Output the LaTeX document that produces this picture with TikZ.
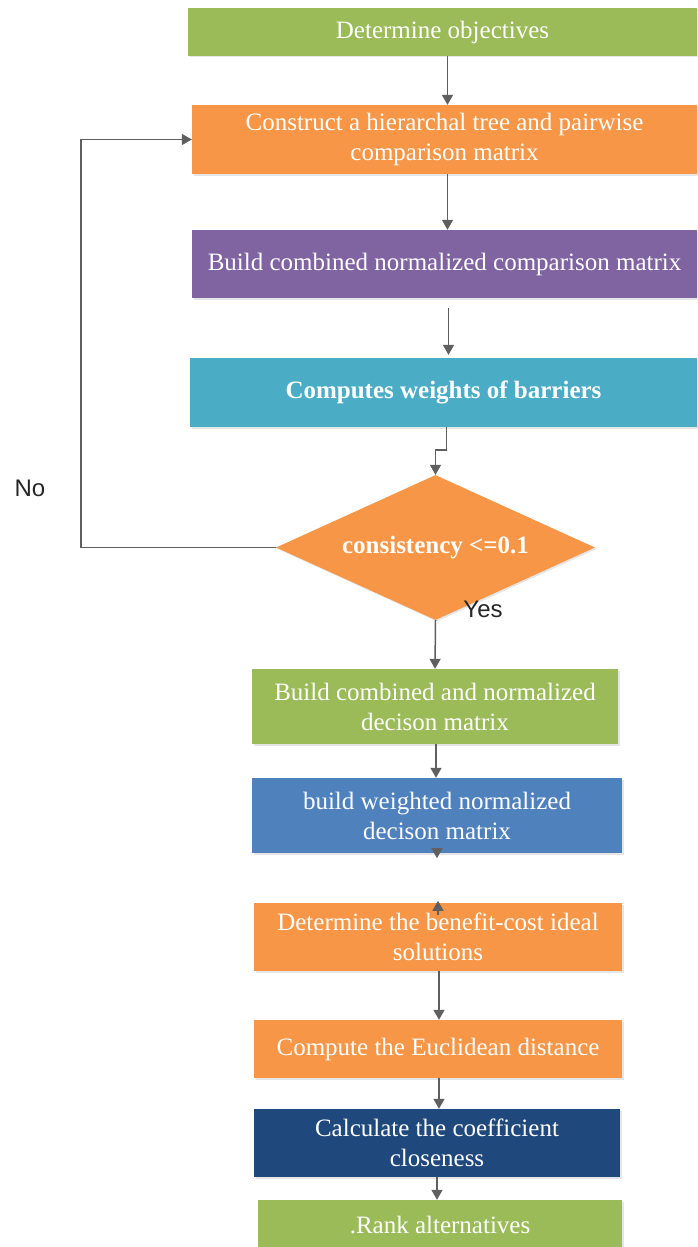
\documentclass[tikz,border=0pt]{standalone}
\usepackage{fontspec}
\setmainfont{Liberation Serif}
\newfontfamily\labelfont{Liberation Sans}
\usetikzlibrary{shapes.geometric,arrows.meta,shadows}

\definecolor{boxgreen}{RGB}{155,187,89}
\definecolor{boxorange}{RGB}{247,150,70}
\definecolor{boxpurple}{RGB}{128,100,162}
\definecolor{boxteal}{RGB}{75,172,198}
\definecolor{boxblue}{RGB}{79,129,189}
\definecolor{boxnavy}{RGB}{31,73,125}
\definecolor{arrowgray}{RGB}{95,95,95}

\begin{document}
\begin{tikzpicture}[x=1pt,y=-1pt,
    box/.style={rectangle, text=white, align=center, inner sep=0pt,
        font=\fontsize{25}{30}\selectfont,
        drop shadow={shadow xshift=1.5pt, shadow yshift=-1.5pt, fill=black!20}},
    decide/.style={diamond, aspect=2.2, fill=boxorange, text=white, inner sep=0pt,
        minimum width=319pt, minimum height=145pt,
        font=\bfseries\fontsize{25}{30}\selectfont,
        drop shadow={shadow xshift=1.5pt, shadow yshift=-1.5pt, fill=black!20}},
    arr/.style={draw=arrowgray, line width=1.5pt, -{Triangle[length=10pt,width=11pt]}},
    answer/.style={font=\labelfont\fontsize{24}{28}\selectfont, text=black!85}]

    \useasboundingbox (0,0) rectangle (697,1247);

    \node[box, fill=boxgreen, minimum width=509pt, minimum height=48pt]  (obj)    at (442.5,32)  {Determine objectives};
    \node[box, fill=boxorange, minimum width=505pt, minimum height=69pt] (tree)   at (444.5,139.5) {Construct a hierarchal tree and pairwise\\comparison matrix};
    \node[box, fill=boxpurple, minimum width=505pt, minimum height=68pt] (cnorm)  at (444.5,264) {Build combined normalized comparison matrix};
    \node[box, fill=boxteal, minimum width=507pt, minimum height=69pt, font=\bfseries\fontsize{25}{30}\selectfont] (weights) at (443.5,392.5) {Computes weights of barriers};
    \node[decide] (check) at (435.5,547.5) {consistency <=0.1};

    \node[box, fill=boxgreen, minimum width=366pt, minimum height=75pt]  (dnorm)  at (435,706.5) {Build combined and normalized\\decison matrix};
    \node[box, fill=boxblue, minimum width=370pt, minimum height=75pt]   (wnorm)  at (437,815.5) {build weighted normalized\\decison matrix};
    \node[box, fill=boxorange, minimum width=368pt, minimum height=68pt] (ideal)  at (438,937)   {Determine the benefit-cost ideal\\solutions};
    \node[box, fill=boxorange, minimum width=368pt, minimum height=58pt] (dist)   at (438,1049)  {Compute the Euclidean distance};
    \node[box, fill=boxnavy, minimum width=366pt, minimum height=68pt]   (close)  at (437,1143)  {Calculate the coefficient\\closeness};
    \node[box, fill=boxgreen, minimum width=364pt, minimum height=50pt]  (rank)   at (440,1225)  {.Rank alternatives};

    \node[answer] (no)  at (30,488)  {No};
    \node[answer] (yes) at (483,609) {Yes};

    \draw[arr] ([xshift=5pt]obj.south) -- ([xshift=3pt]tree.north);
    \draw[arr] ([xshift=3pt]tree.south) -- ([xshift=3pt]cnorm.north);
    \draw[arr] ([xshift=4pt,yshift=-10pt]cnorm.south) -- ([xshift=5pt,yshift=3pt]weights.north);
    \draw[arr] ([xshift=3pt]weights.south) -- ++(0,23) -| (check.north);
    \draw[arr] (check.west) -- ++(-195,0) |- (tree.west);
    \draw[arr] (check.south) -- (dnorm.north);
    \draw[arr] ([xshift=1pt]dnorm.south) -- ([xshift=-1pt]wnorm.north);
    \draw[arr] ([yshift=3pt]wnorm.south) -- ([yshift=-5pt]wnorm.south);
    \draw[arr] ([yshift=-12pt]ideal.north) -- ([yshift=2pt]ideal.north);
    \draw[arr] ([xshift=1pt]ideal.south) -- ([xshift=1pt]dist.north);
    \draw[arr] ([xshift=1pt]dist.south) -- ([xshift=2pt]close.north);
    \draw[arr] (close.south) -- ([xshift=-3pt]rank.north);
\end{tikzpicture}
\end{document}
